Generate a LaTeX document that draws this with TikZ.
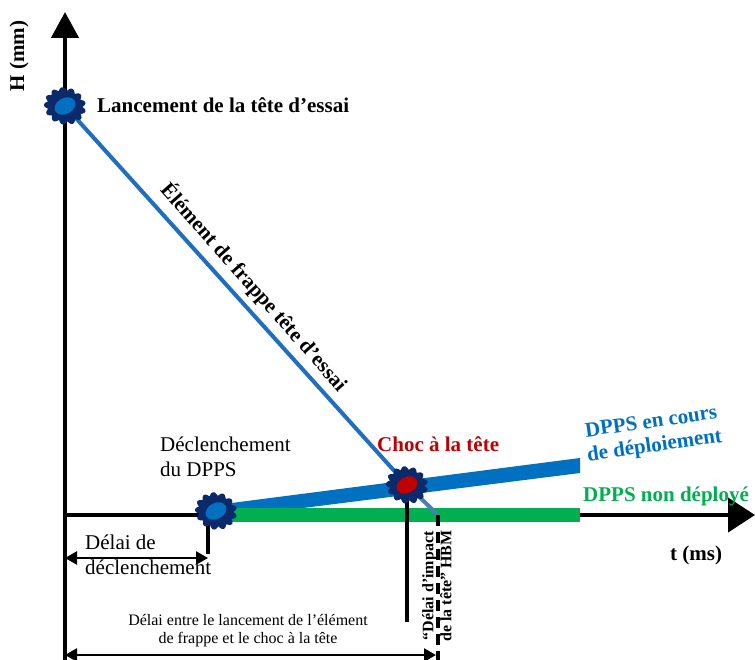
\documentclass[tikz,border=0pt]{standalone}
\usepackage{fontspec}
\setmainfont{Liberation Serif}
\usetikzlibrary{arrows.meta}
\definecolor{burstnavy}{HTML}{0B2A6B}
\definecolor{innerblue}{HTML}{0070C0}
\definecolor{shockred}{HTML}{C00000}
\definecolor{lineblue}{HTML}{1F6EBF}
\definecolor{paleblue}{HTML}{4A7EBB}
\definecolor{bandblue}{HTML}{0070C0}
\definecolor{bandgreen}{HTML}{00B050}
\begin{document}
\begin{tikzpicture}[x=1pt,y=-1pt,
  axis/.style={line width=4.5pt, black},
  dim/.style={line width=2.5pt, {Triangle[length=12pt,width=13pt]}-{Triangle[length=12pt,width=13pt]}},
  boldtxt/.style={font=\bfseries\fontsize{21}{24}\selectfont, inner sep=0pt},
  boldsmall/.style={font=\bfseries\fontsize{16}{18}\selectfont, inner sep=0pt, align=center},
  plaintxt/.style={font=\fontsize{21}{24.5}\selectfont, inner sep=0pt, align=left},
  smalltxt/.style={font=\fontsize{16}{18}\selectfont, inner sep=0pt, align=center},
  % scalloped blob marking an event, with a coloured core
  pics/burst/.style={code={
    \fill[burstnavy, rotate=-15] plot[domain=0:360,samples=181]
      ({(17.5+3.6*abs(cos(6.5*\x)))*cos(\x)},{(15+3.6*abs(cos(6.5*\x)))*sin(\x)}) -- cycle;
    \fill[#1, rotate=28] (0,0) ellipse [x radius=11, y radius=8];
  }}
]
\useasboundingbox (0,0) rectangle (755,660);

% key points
\coordinate (O) at (65,515);
\coordinate (ytop) at (65,12);
\coordinate (ybot) at (65,660);
\coordinate (xend) at (755,515);
\coordinate (launch) at (65,106);
\coordinate (trig) at (216,511);
\coordinate (trigtick) at (208,511);
\coordinate (trigtickend) at (208,554);
\coordinate (choc) at (407,485);
\coordinate (chocdrop) at (407,622);
\coordinate (hbm) at (438,515);
\coordinate (hbmbot) at (438,660);
\coordinate (d1a) at (65,558);
\coordinate (d1b) at (208,558);
\coordinate (d2a) at (65,655);
\coordinate (d2b) at (436,655);

% axes
\draw[axis, -{Triangle[length=26pt,width=27pt]}] (ybot) -- (ytop);
\draw[axis, -{Triangle[length=27pt,width=34pt]}] (O) -- (xend);

% DPPS bands
\fill[bandblue] (216,505) -- (580,458) -- (580,473) -- (216,519) -- cycle;
\draw[bandgreen, line width=14pt] (225,515) -- (580,515);

% strike element trajectory
\draw[lineblue, line width=4pt] (launch) -- (choc);
\draw[paleblue, line width=4pt] (choc) -- (hbm);

% vertical marks
\draw[line width=3.5pt] (choc) -- (chocdrop);
\draw[line width=4pt, dash pattern=on 11pt off 6pt] (hbm) -- (hbmbot);
\draw[line width=3.5pt] (trigtick) -- (trigtickend);

% dimension arrows
\draw[dim] (d1a) -- (d1b);
\draw[dim] (d2a) -- (d2b);

% events
\pic at (launch) {burst=innerblue};
\pic at (trig) {burst=innerblue};
\pic at (choc) {burst=shockred};

% labels
\node[boldtxt, rotate=90] (ylab) at (19,56) {H (mm)};
\node[boldtxt, anchor=base west] (launchlab) at (97,113) {Lancement de la tête d’essai};
\node[boldtxt, rotate=-48.5] (strikelab) at (254,287) {Élément de frappe tête d’essai};
\node[plaintxt, anchor=north west] (triglab) at (160,437) {Déclenchement\\du DPPS};
\node[boldtxt, anchor=base west, text=shockred] (choclab) at (377,451) {Choc à la tête};
\node[boldtxt, align=center, rotate=8, text=bandblue] (deplab) at (653,435) {DPPS en cours\\de déploiement};
\node[boldtxt, anchor=base west, text=bandgreen] (nodeplab) at (583,501) {DPPS non déployé};
\node[boldtxt, anchor=base west] (xlab) at (670,560) {t (ms)};
\node[plaintxt, anchor=north west] (d1lab) at (85,535) {Délai de\\déclenchement};
\node[smalltxt, anchor=north] (d2lab) at (248,614) {Délai entre le lancement de l’élément\\de frappe et le choc à la tête};
\node[boldsmall, rotate=90] (hbmlab) at (437,586) {“Délai d’impact\\de la tête” HBM};
\end{tikzpicture}
\end{document}
